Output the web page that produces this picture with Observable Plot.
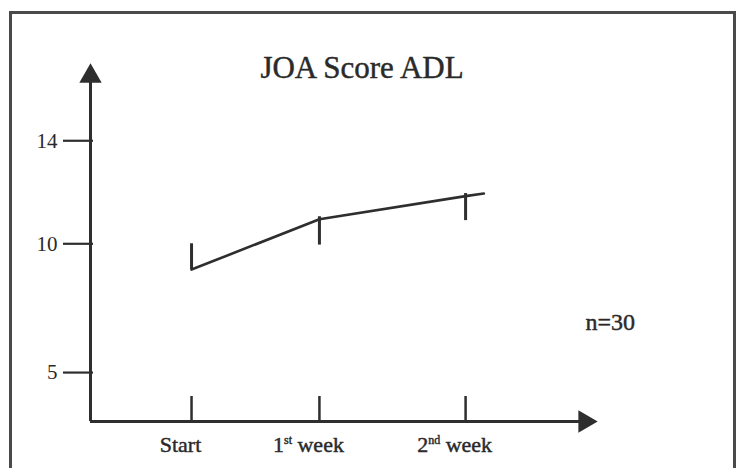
<!DOCTYPE html>
<html><head><meta charset="utf-8">
<script src="https://cdn.jsdelivr.net/npm/d3@7"></script>
<script src="https://cdn.jsdelivr.net/npm/@observablehq/plot@0.6"></script>
<style>
html,body{margin:0;padding:0;background:#fff;}
#wrap{position:relative;width:740px;height:468px;overflow:hidden;background:#fff;}
#box{position:absolute;left:9px;top:11px;width:721px;height:480px;border:3px solid #4a4a4a;}
#chart{position:absolute;left:0;top:0;}
</style></head><body>
<div id="wrap"><div id="box"></div><div id="chart"></div></div>
<script>
// ---- data ----
const categories = ["Start", "1st week", "2nd week"];
const days = [0, 7, 15];
const barLow = [9.0, 9.95, 10.9];
const barHigh = [10.0, 11.05, 11.95];
const lineDays = [0, 7, 15, 16];
const lineScore = [9.0, 10.95, 11.85, 11.95];
const yTicks = [5, 10, 14];
const title = "JOA Score ADL";
const note = "n=30";
const xAxisRange = [-5.53, 22.22];
const yAxisRange = [3.1, 17];

const ink = "#2e2e2e";
const txt = "#2a2a2a";
const W = 740, H = 468, mT = 63, mB = 47, mL = 90, mR = 143;
const frameH = H - mT - mB;

const points = categories.map((c, i) => ({label: c, day: days[i], low: barLow[i], high: barHigh[i]}));
const line = lineDays.map((d, i) => ({day: d, score: lineScore[i]}));
const origin = [{x: xAxisRange[0], yTop: yAxisRange[1], xEnd: xAxisRange[1], y: yAxisRange[0]}];
const halo = {stroke: txt, strokeWidth: 0.45};

const svg = Plot.plot({
  width: W, height: H,
  marginTop: mT, marginBottom: mB, marginLeft: mL, marginRight: mR,
  style: {fontFamily: "'Liberation Serif', 'Times New Roman', serif", fontSize: "21px", color: ink, background: "transparent"},
  x: {domain: xAxisRange, axis: null},
  y: {domain: yAxisRange, axis: null},
  marks: [
    Plot.ruleY([yAxisRange[0]], {stroke: ink, strokeWidth: 3, insetRight: 8}),
    Plot.ruleX([xAxisRange[0]], {stroke: ink, strokeWidth: 3, insetTop: 8}),
    Plot.dot(origin, {x: "x", y: "yTop", symbol: "triangle", r: 8.3, fill: ink, stroke: "none", dy: 12.7}),
    Plot.dot(origin, {x: "xEnd", y: "y", symbol: "triangle", r: 8.3, fill: ink, stroke: "none", rotate: 90, dx: -12.7}),
    Plot.tickX(points, {x: "day", stroke: ink, strokeWidth: 2.5, insetTop: frameH - 25}),
    Plot.axisY(yTicks, {tickSize: 30, tickPadding: 6, dx: 3, stroke: ink, strokeWidth: 2.2, fontSize: 21, fill: txt, label: null}),
    Plot.ruleX(points, {x: "day", y1: "low", y2: "high", stroke: ink, strokeWidth: 3}),
    Plot.line(line, {x: "day", y: "score", stroke: ink, strokeWidth: 2.6}),
    Plot.text([title], {frameAnchor: "top", lineAnchor: "bottom", dx: 18, dy: 14, fontSize: 31, fill: txt, ...halo}),
    Plot.text([note], {frameAnchor: "right", textAnchor: "start", dx: -12, dy: 80, fontSize: 24, fill: txt, ...halo}),
    Plot.text(points, {x: "day", text: "label", frameAnchor: "bottom", lineAnchor: "top", dx: -11, dy: 15, fontSize: 22, fill: txt, ...halo})
  ]
});

// ordinal suffixes as superscripts
d3.select(svg).selectAll("text").each(function() {
  const m = this.textContent.match(/^(\d+)(st|nd|rd|th)\s(.+)$/);
  if (!m) return;
  const el = d3.select(this);
  el.text(null);
  el.append("tspan").text(m[1]);
  el.append("tspan").attr("font-size", "12px").attr("dy", "-8").text(m[2]);
  el.append("tspan").attr("dy", "8").text("\u00a0" + m[3]);
});

document.getElementById("chart").appendChild(svg);
</script>
</body></html>
